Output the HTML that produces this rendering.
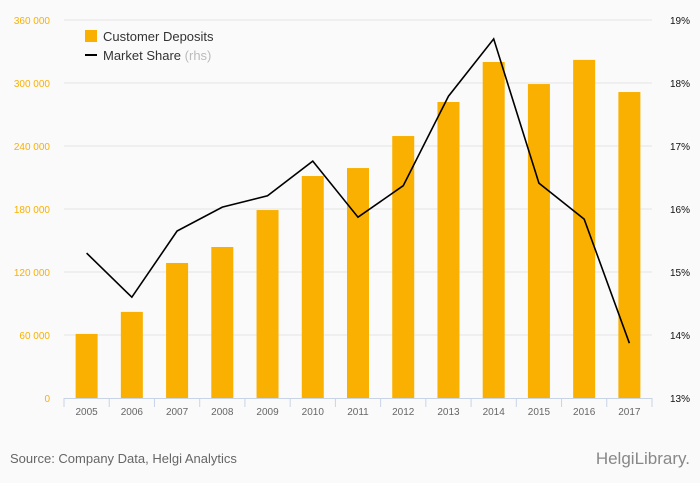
<!DOCTYPE html>
<html><head><meta charset="utf-8"><style>
body{margin:0;background:#fafafa;font-family:"Liberation Sans",sans-serif}
svg{display:block}
</style></head><body>
<svg id="c" width="700" height="483">
<rect width="700" height="483" fill="#fafafa"/>
<g id="grid"></g><g id="bars"></g><g id="axis"></g><g id="line"></g>
<g>
<rect x="85" y="30" width="12" height="12" fill="#f9b000"/>
<text x="103" y="41" font-size="13" fill="#333">Customer Deposits</text>
<rect x="85" y="54" width="12" height="2" fill="#000"/>
<text x="103" y="60" font-size="13" fill="#333">Market Share <tspan fill="#bbb">(rhs)</tspan></text>
</g>
<text x="10" y="463" font-size="13" fill="#666">Source: Company Data, Helgi Analytics</text>
<text x="690" y="464" font-size="17" fill="#888" text-anchor="end">HelgiLibrary.</text>
</svg>
<script>
const years=["2005","2006","2007","2008","2009","2010","2011","2012","2013","2014","2015","2016","2017"];
const deposits=[61000,82000,128600,143800,179000,211400,219000,249500,281900,320000,299000,322000,291400];
const share=[15.30,14.60,15.65,16.03,16.21,16.76,15.87,16.37,17.79,18.70,16.41,15.84,13.87];
const leftTicks=[0,60000,120000,180000,240000,300000,360000];
const rightTicks=[13,14,15,16,17,18,19];
const NS="http://www.w3.org/2000/svg";
const x0=64,x1=652,yTop=20,yBot=398,bw=(x1-x0)/years.length;
const yL=v=>yBot-(v/360000)*(yBot-yTop);
const yR=v=>yBot-((v-13)/6)*(yBot-yTop);
const xc=i=>x0+bw*(i+0.5);
function mk(t,a,p){const e=document.createElementNS(NS,t);for(const k in a)e.setAttribute(k,a[k]);p.appendChild(e);return e;}
const fmt=v=>v===0?"0":String(v).replace(/\B(?=(\d{3})+(?!\d))/g," ");
const grid=document.getElementById('grid'),bars=document.getElementById('bars'),axis=document.getElementById('axis'),line=document.getElementById('line');
leftTicks.forEach(v=>{
 if(v>0){const g=mk('line',{x1:x0,x2:x1,y1:yL(v),y2:yL(v),stroke:'#e4e4e4'},grid);
 
 }
 const t=mk('text',{x:50,y:yL(v)+4,'font-size':10,fill:'#f9b000','text-anchor':'end'},axis);t.textContent=fmt(v);
 
 
});
rightTicks.forEach(v=>{
 const t=mk('text',{x:690,y:yR(v)+4,'font-size':10,fill:'#111','text-anchor':'end'},axis);t.textContent=v+'%';
 
 
});
deposits.forEach((v,i)=>{
 const r=mk('rect',{x:xc(i)-11,y:yL(v),width:22,height:yBot-yL(v),fill:'#f9b000'},bars);
 
 
});
const ax=mk('line',{x1:x0,x2:x1,y1:yBot+0.5,y2:yBot+0.5,stroke:'#c8d4e6'},axis);


for(let i=0;i<=years.length;i++){mk('line',{x1:x0+bw*i,x2:x0+bw*i,y1:yBot,y2:yBot+9,stroke:'#c8d4e6'},axis);}
years.forEach((y,i)=>{const t=mk('text',{x:xc(i),y:415,'font-size':10,fill:'#666','text-anchor':'middle'},axis);t.textContent=y;
 
 });
const p=mk('polyline',{points:share.map((v,i)=>xc(i)+','+yR(v)).join(' '),fill:'none',stroke:'#000','stroke-width':1.6},line);


</script>
</body></html>
